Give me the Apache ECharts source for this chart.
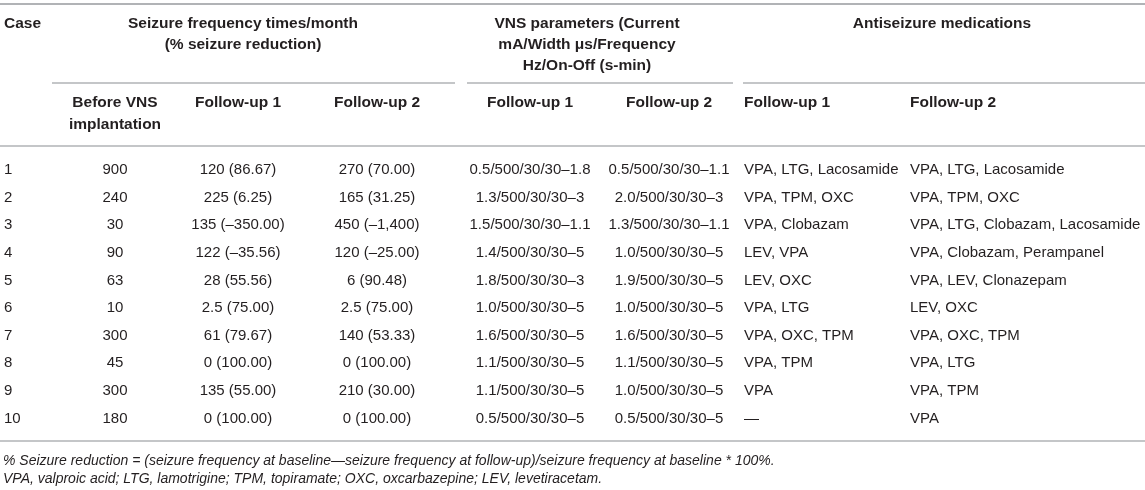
<!DOCTYPE html>
<html>
<head>
<meta charset="utf-8">
<script src="https://cdn.jsdelivr.net/npm/echarts@6/dist/echarts.min.js"></script>
<style>
  html, body { margin: 0; padding: 0; background: #fff; }
  #main { width: 1145px; height: 490px; }
</style>
</head>
<body>
<div id="main"></div>
<script>
// 表格数据
var cases = ['1', '2', '3', '4', '5', '6', '7', '8', '9', '10'];
var beforeVNS = [900, 240, 30, 90, 63, 10, 300, 45, 300, 180];
var freqFu1 = [120, 225, 135, 122, 28, 2.5, 61, 0, 135, 0];
var reductionFu1 = ['86.67', '6.25', '\u2013350.00', '\u201335.56', '55.56', '75.00', '79.67', '100.00', '55.00', '100.00'];
var freqFu2 = [270, 165, 450, 120, 6, 2.5, 140, 0, 210, 0];
var reductionFu2 = ['70.00', '31.25', '\u20131,400', '\u201325.00', '90.48', '75.00', '53.33', '100.00', '30.00', '100.00'];
var vnsFu1 = ['0.5/500/30/30\u20131.8', '1.3/500/30/30\u20133', '1.5/500/30/30\u20131.1', '1.4/500/30/30\u20135', '1.8/500/30/30\u20133',
              '1.0/500/30/30\u20135', '1.6/500/30/30\u20135', '1.1/500/30/30\u20135', '1.1/500/30/30\u20135', '0.5/500/30/30\u20135'];
var vnsFu2 = ['0.5/500/30/30\u20131.1', '2.0/500/30/30\u20133', '1.3/500/30/30\u20131.1', '1.0/500/30/30\u20135', '1.9/500/30/30\u20135',
              '1.0/500/30/30\u20135', '1.6/500/30/30\u20135', '1.1/500/30/30\u20135', '1.0/500/30/30\u20135', '0.5/500/30/30\u20135'];
var asmFu1 = ['VPA, LTG, Lacosamide', 'VPA, TPM, OXC', 'VPA, Clobazam', 'LEV, VPA', 'LEV, OXC', 'VPA, LTG', 'VPA, OXC, TPM', 'VPA, TPM', 'VPA', '\u2014'];
var asmFu2 = ['VPA, LTG, Lacosamide', 'VPA, TPM, OXC', 'VPA, LTG, Clobazam, Lacosamide', 'VPA, Clobazam, Perampanel', 'VPA, LEV, Clonazepam',
              'LEV, OXC', 'VPA, OXC, TPM', 'VPA, LTG', 'VPA, TPM', 'VPA'];

var groupTitles = [
    ['Seizure frequency times/month', '(% seizure reduction)'],
    ['VNS parameters (Current', 'mA/Width \u03bcs/Frequency', 'Hz/On-Off (s-min)'],
    ['Antiseizure medications']
];
var subTitles = [['Before VNS', 'implantation'], ['Follow-up 1'], ['Follow-up 2'], ['Follow-up 1'], ['Follow-up 2'], ['Follow-up 1'], ['Follow-up 2']];
var footnotes = [
    '% Seizure reduction = (seizure frequency at baseline\u2014seizure frequency at follow-up)/seizure frequency at baseline * 100%.',
    'VPA, valproic acid; LTG, lamotrigine; TPM, topiramate; OXC, oxcarbazepine; LEV, levetiracetam.'
];

// 版面
var W = 1145;
var textColor = '#231f20';
var ruleColor = '#b1b3b6';
var font = '"Liberation Sans", Arial, Helvetica, sans-serif';
var headFs = 15.5, fs = 15, noteFs = 14;
var lineH = 21;
var groupX = [[52, 455], [467, 733], [743, 1145]];
var groupCenter = [243, 587, 942];
var colX = [4, 115, 238, 377, 530, 669, 744, 910];
var colAlign = ['left', 'center', 'center', 'center', 'center', 'center', 'left', 'left'];
var headY = 24, subRuleY = 83, subY = 103, headRuleY = 146;
var rowY0 = 170, rowH = 27.6;
var bottomRuleY = 441, noteY = 461, noteH = 18;

function txt(s, x, y, align, bold, size, italic) {
    return {
        type: 'text', x: x, y: y, silent: true,
        style: {
            text: s, fill: textColor, fontSize: size, fontFamily: font,
            fontWeight: bold ? 'bold' : 'normal', fontStyle: italic ? 'italic' : 'normal',
            align: align, verticalAlign: 'middle'
        }
    };
}
function rule(x1, x2, y, w) {
    return { type: 'line', silent: true, shape: { x1: x1, y1: y, x2: x2, y2: y }, style: { stroke: ruleColor, lineWidth: w } };
}

var els = [];
els.push(rule(0, W, 4, 2));
els.push(txt('Case', colX[0], headY, 'left', true, headFs));
groupTitles.forEach(function (lines, g) {
    lines.forEach(function (s, k) { els.push(txt(s, groupCenter[g], headY + k * lineH, 'center', true, headFs)); });
    els.push(rule(groupX[g][0], groupX[g][1], subRuleY, 1.5));
});
subTitles.forEach(function (lines, c) {
    lines.forEach(function (s, k) { els.push(txt(s, colX[c + 1], subY + k * 22, colAlign[c + 1], true, headFs)); });
});
els.push(rule(0, W, headRuleY, 1.5));

for (var i = 0; i < cases.length; i++) {
    var row = [
        cases[i],
        String(beforeVNS[i]),
        freqFu1[i] + ' (' + reductionFu1[i] + ')',
        freqFu2[i] + ' (' + reductionFu2[i] + ')',
        vnsFu1[i], vnsFu2[i], asmFu1[i], asmFu2[i]
    ];
    var y = rowY0 + i * rowH;
    row.forEach(function (s, c) { els.push(txt(s, colX[c], y, colAlign[c], false, fs)); });
}
els.push(rule(0, W, bottomRuleY, 1.5));
footnotes.forEach(function (s, k) { els.push(txt(s, 3, noteY + k * noteH, 'left', false, noteFs, true)); });

var myChart = echarts.init(document.getElementById('main'), null, { renderer: 'canvas' });
myChart.setOption({
    backgroundColor: '#fff',
    animation: false,
    graphic: { elements: els }
});
</script>
</body>
</html>
